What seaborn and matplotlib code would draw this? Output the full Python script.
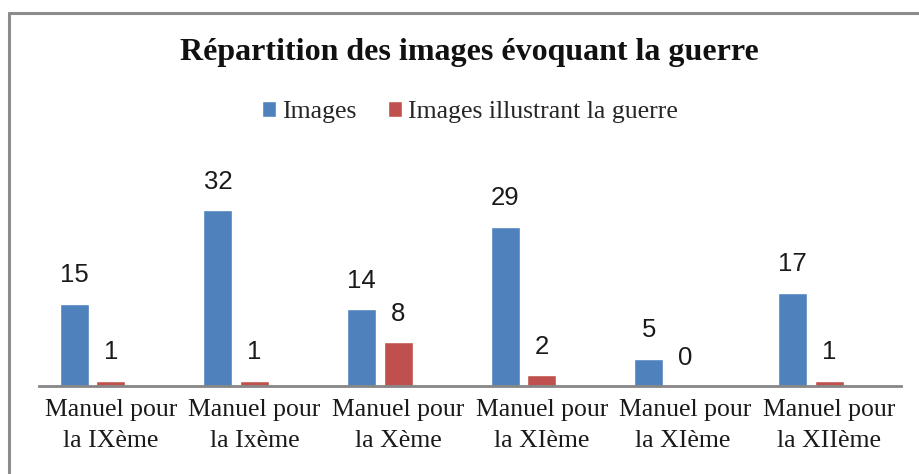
import pandas as pd
import matplotlib.pyplot as plt
import seaborn as sns
from matplotlib.lines import Line2D

sns.set_theme(style='white')

# =====================================================
# DATA
# =====================================================
manuels = ['Manuel pour\nla IXème', 'Manuel pour\nla Ixème', 'Manuel pour\nla Xème',
           'Manuel pour\nla XIème', 'Manuel pour\nla XIème ', 'Manuel pour\nla XIIème']
images = [15, 32, 14, 29, 5, 17]
images_guerre = [1, 1, 8, 2, 0, 1]

series = ['Images', 'Images illustrant la guerre']
colors = ['#4F81BD', '#C0504D']

df = pd.DataFrame({
    'manuel': manuels * 2,
    'serie': [series[0]] * len(manuels) + [series[1]] * len(manuels),
    'valeur': images + images_guerre,
})

# =====================================================
# CHART
# =====================================================
serif = ['Liberation Serif', 'DejaVu Serif']
sans = ['Liberation Sans', 'DejaVu Sans']

fig = plt.figure(figsize=(9.19, 4.74), dpi=100)
fig.patch.set_facecolor('white')
ax = fig.add_axes([0.0424, 0.1846, 0.938, 0.499])

# third empty slot mimics the Excel layout (red bar sits on the category centre)
sns.barplot(ax=ax, data=df, x='manuel', y='valeur', hue='serie',
            hue_order=series + [''], palette=colors + ['white'],
            order=manuels, width=0.762, gap=0.205, saturation=1, errorbar=None)

for cont in ax.containers[:2]:
    ax.bar_label(cont, fmt='%d', padding=12, fontsize=18.5, color='#1a1a1a', family=sans)

ax.set_ylim(0, 43)
ax.set_xlim(-0.5, 5.5)
ax.set(xlabel='', ylabel='')
ax.set_yticks([])
ax.tick_params(axis='x', length=0, pad=9)
for lab in ax.get_xticklabels():
    lab.set_family(serif)
    lab.set_fontsize(18.5)
    lab.set_linespacing(1.55)
    lab.set_color('#1a1a1a')

sns.despine(ax=ax, left=True, top=True, right=True)
ax.spines['bottom'].set_color('#868686')
ax.spines['bottom'].set_linewidth(2)

handles, labels = ax.get_legend_handles_labels()
ax.legend(handles[:2], labels[:2], loc='center', bbox_to_anchor=(0.5, 1.161),
          ncol=2, frameon=False, prop={'family': serif, 'size': 18.5},
          handlelength=0.55, handleheight=0.55, handletextpad=0.25, columnspacing=1.2)

fig.text(0.511, 0.89, 'Répartition des images évoquant la guerre', ha='center', va='center',
         fontsize=23, fontweight='bold', family=serif, color='#111111')

# chart frame (only top and left edges are visible in the crop)
fig.add_artist(Line2D([0.0103, 0.0103], [0.0, 0.9736], color='#8c8c8c', lw=2.2,
                      transform=fig.transFigure))
fig.add_artist(Line2D([0.0103, 1.0], [0.9736, 0.9736], color='#8c8c8c', lw=2.2,
                      transform=fig.transFigure))

fig.savefig('out.png', dpi=100)
plt.close()
